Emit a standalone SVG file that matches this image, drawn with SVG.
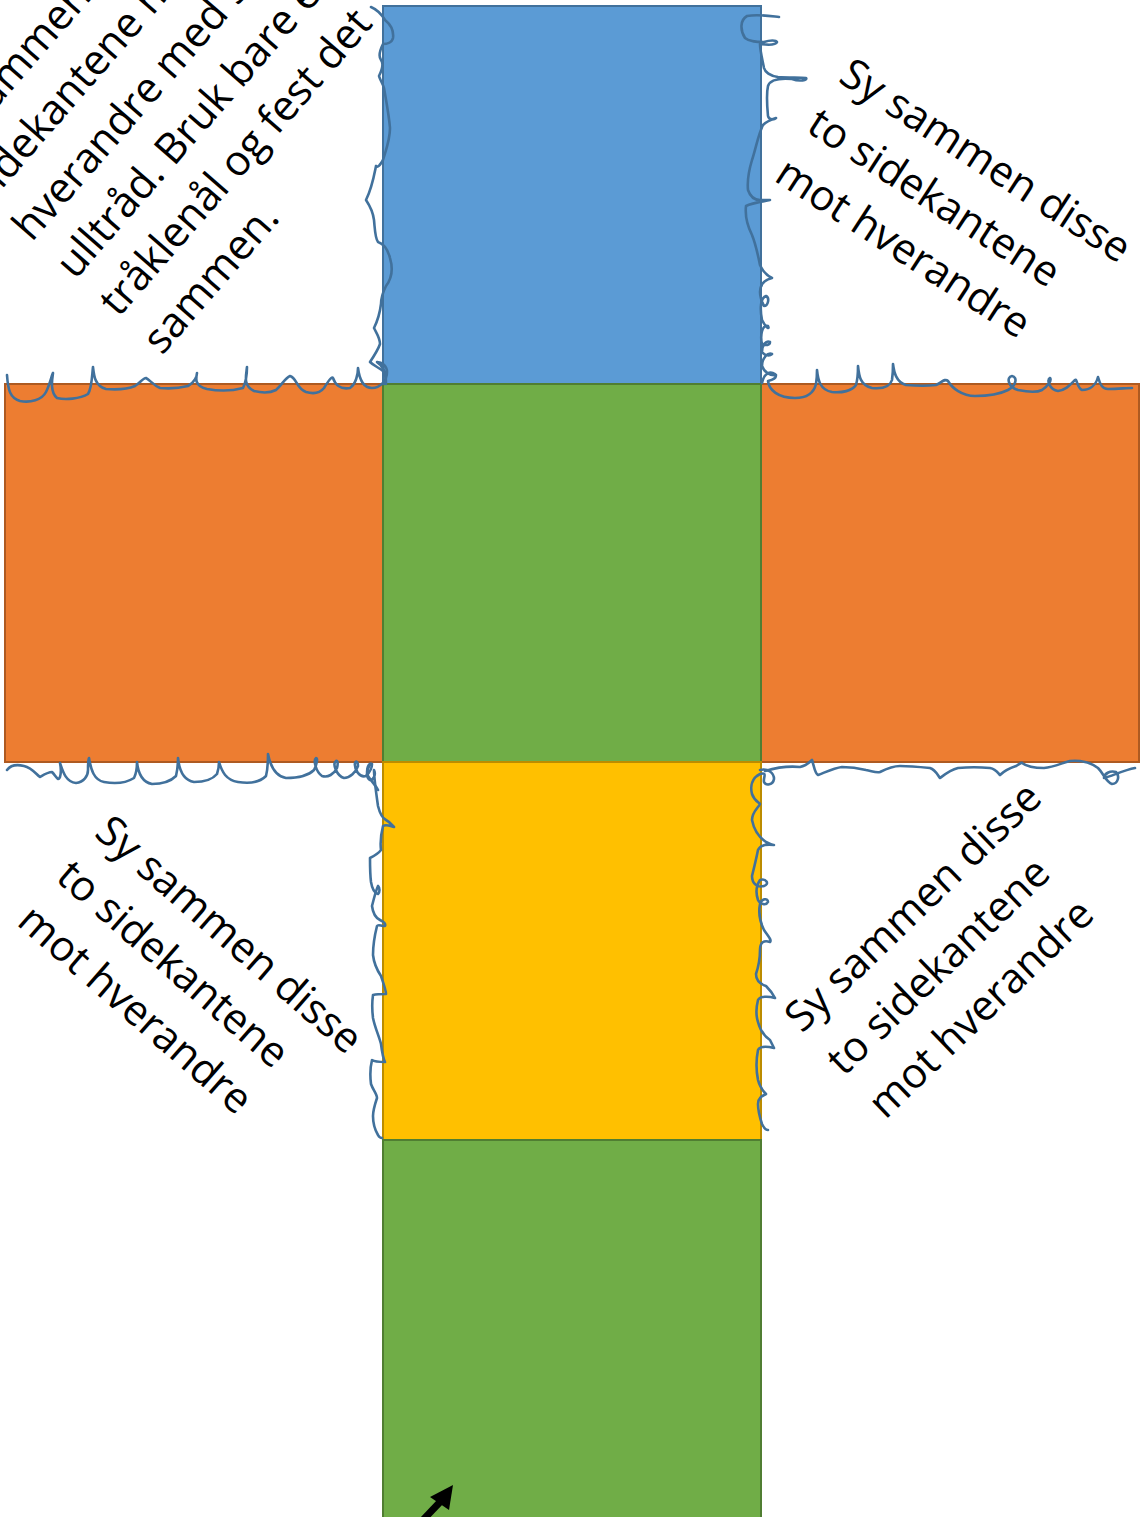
<svg xmlns="http://www.w3.org/2000/svg" width="1141" height="1517" viewBox="0 0 1141 1517">
<style>
.sq{stroke-width:2}
.blue{fill:#5B9BD5;stroke:#41719C}
.green{fill:#70AD47;stroke:#507E32}
.orange{fill:#ED7D31;stroke:#AE5A21}
.yellow{fill:#FFC000;stroke:#BC8C00}
.st{fill:none;stroke:#41719C;stroke-width:2.6;stroke-linecap:round;stroke-linejoin:round}
.lbl{font-family:"Open Sans","Noto Sans","DejaVu Sans",sans-serif;font-size:42px;fill:#000}
</style>
<rect width="1141" height="1517" fill="#fff"/>
<g id="face-top"><rect class="sq blue" x="383" y="6" width="378" height="378"/></g>
<g id="face-left"><rect class="sq orange" x="5" y="384" width="378" height="378"/></g>
<g id="face-right"><rect class="sq orange" x="761" y="384" width="378" height="378"/></g>
<g id="face-center"><rect class="sq green" x="383" y="384" width="378" height="378"/></g>
<g id="face-yellow"><rect class="sq yellow" x="383" y="762" width="378" height="378"/></g>
<g id="face-bottom"><rect class="sq green" x="383" y="1140" width="378" height="380"/></g>

<g id="stitches">
<path class="st" d="M7,375 C8,390 10,398 20,401 C30,403 42,400 46,392 C50,384 52,374 53,373 C52,380 50,392 57,398 C65,400 80,399 88,394 C92,388 92,375 93,367 C94,376 95,386 106,389 C118,390 128,389 135,386 C140,383 143,378 146,378 C150,380 153,385 160,388 C170,389 180,388 188,386 C195,382 197,376 197,373 C196,378 194,386 207,389 C218,391 232,391 243,388 C247,380 247,372 247,367 C246,376 243,386 254,391 C262,393 270,393 276,390 C282,385 285,378 290,376 C297,378 296,388 306,392 C313,394 320,393 324,388 C329,380 332,376 333,378 C335,384 340,390 350,388 C356,384 358,374 358,368 C359,376 362,388 372,388 C380,388 387,381 387,372 C387,366 382,362 377,362 C384,366 386,374 386,384"/>
<path class="st" d="M762,383 C764,373 770,371 775,374 C778,378 772,380 768,381 C769,390 778,398 795,398 C808,398 814,392 816,384 C817,378 817,374 817,370 C818,380 820,390 832,392 C842,393 852,391 856,385 C858,378 858,370 858,366 C859,376 860,385 872,388 C882,389 890,387 892,380 C893,373 893,368 893,364 C894,372 896,382 906,385 C918,386 928,386 936,385 C942,382 945,378 948,381 C952,388 962,396 975,396 C988,396 1000,394 1008,390 C1016,386 1018,377 1012,376 C1006,377 1008,387 1018,390 C1028,392 1036,393 1042,390 C1048,386 1052,380 1050,378 C1046,380 1050,390 1058,391 C1066,390 1070,385 1075,380 C1077,378 1077,388 1082,390 C1090,390 1096,385 1098,377 C1100,384 1102,389 1108,389 C1118,389 1126,388 1132,388"/>
<path class="st" d="M371,7 C378,10 382,15 385,20 C390,24 394,30 393,38 C392,43 386,44 383,44 C380,50 378,56 381,60 C384,64 382,70 379,76 C380,80 383,84 384,88 C386,100 389,115 390,128 C390,140 386,150 383,160 C380,165 378,168 376,166 C374,176 372,188 366,200 C370,206 373,212 374,220 C375,230 375,238 378,242 C384,244 388,250 390,258 C393,268 392,278 386,286 C383,292 381,298 381,304 C380,312 378,320 374,328 C377,334 380,338 380,344 C378,350 374,356 370,362 C374,366 380,368 384,372 C386,376 387,380 384,384"/>
<path class="st" d="M779,17 C770,16 758,14 747,16 C740,20 740,30 745,38 C750,42 757,42 764,42 C770,40 776,40 777,42 C776,45 768,45 760,44 C760,50 762,58 764,68 C765,72 770,76 778,77 C790,78 800,77 806,78 C808,80 800,82 792,79 C780,78 770,80 768,86 C766,95 767,105 768,116 C769,120 774,120 776,118 C770,120 766,122 763,125 C758,135 756,148 752,160 C749,170 747,180 748,190 C750,196 754,200 760,200 C765,200 770,200 770,200 C760,202 752,203 746,206 C745,215 747,225 752,235 C756,245 758,255 760,265 C763,272 768,276 772,278 C764,280 760,284 760,292 C760,298 762,302 764,306 C768,306 770,298 766,296 C760,298 760,310 762,320 C766,328 770,330 768,326 C762,324 760,336 762,344 C766,346 770,345 770,342 C766,340 762,345 762,352 C765,356 770,356 772,354 C768,352 762,358 762,366 C764,372 770,376 776,375"/>
<path class="st" d="M7,770 C10,766 16,764 24,766 C32,768 36,774 40,777 C45,774 48,772 52,772 C56,776 58,782 60,777 C62,770 60,764 60,763 C63,772 66,782 76,783 C84,782 88,776 88,770 C88,764 88,760 89,758 C91,770 94,780 104,782 C115,784 126,783 134,778 C137,772 137,766 137,762 C138,772 142,782 152,784 C160,784 170,782 176,776 C178,768 178,760 178,758 C179,768 182,780 194,782 C204,782 212,780 217,774 C219,768 219,764 219,762 C222,772 226,780 238,782 C250,784 260,782 266,776 C268,768 268,758 268,754 C270,764 274,776 286,778 C298,778 308,776 314,770 C317,764 318,758 316,758 C313,760 316,772 322,776 C328,778 334,774 337,768 C338,764 338,760 336,761 C332,764 337,776 344,778 C350,778 356,772 358,766 C358,762 356,760 355,763 C354,770 360,778 366,776 C370,772 372,768 372,764 C368,762 366,770 368,776 C372,782 376,786 378,790"/>
<path class="st" d="M370,765 C366,770 366,778 370,780 C374,780 376,774 374,770 C374,778 376,792 378,806 C380,814 382,818 386,820 C390,822 393,826 394,827 C390,826 386,824 383,826 C381,834 380,842 381,850 C378,854 374,856 370,858 C370,866 370,874 371,882 C372,888 374,893 378,894 C380,892 380,888 378,886 C376,890 374,898 372,906 C373,914 376,918 380,920 C384,922 386,924 385,926 C381,926 378,924 377,926 C375,934 373,944 373,955 C374,964 377,970 381,976 C383,982 386,990 386,994 C382,994 377,994 373,995 C372,1002 372,1010 373,1018 C375,1028 379,1036 381,1044 C382,1052 383,1058 385,1062 C380,1062 375,1062 372,1060 C370,1068 370,1076 371,1084 C373,1090 377,1094 377,1098 C375,1104 373,1110 373,1116 C373,1124 375,1130 378,1135 C379,1137 381,1138 382,1138"/>
<path class="st" d="M760,770 C768,768 774,773 774,779 C773,785 766,786 764,782 C763,777 768,772 760,774 C752,778 750,786 752,794 C754,800 758,802 760,804 C758,808 752,812 752,820 C754,830 760,838 766,842 C770,844 773,845 774,845 C766,844 760,845 758,850 C756,860 754,868 752,876 C752,884 758,888 764,886 C770,884 766,878 760,880 C756,886 756,894 758,900 C760,904 766,906 768,902 C768,898 762,898 760,904 C758,914 760,922 764,930 C768,936 772,940 770,942 C764,940 760,942 760,950 C760,960 758,968 756,974 C756,980 760,984 766,986 C770,990 773,994 775,998 C768,996 760,996 758,1000 C756,1008 756,1016 758,1022 C760,1030 764,1036 770,1040 C772,1044 773,1046 774,1048 C766,1046 760,1046 758,1050 C756,1060 756,1070 758,1080 C760,1088 764,1092 766,1094 C762,1096 758,1098 758,1104 C758,1112 760,1118 762,1124 C764,1128 766,1130 768,1130"/>
<path class="st" d="M765,771 C775,768 790,766 800,767 C806,766 810,762 812,760 C814,766 815,774 818,775 C826,772 834,768 842,767 C850,767 858,768 866,770 C872,771 876,773 880,772 C886,769 892,766 900,766 C910,766 920,767 930,768 C936,770 938,776 940,778 C944,775 950,770 958,768 C968,767 980,767 990,768 C996,769 998,773 1000,775 C1004,771 1010,768 1016,766 C1020,764 1022,762 1022,763 C1026,766 1034,768 1044,768 C1054,767 1062,763 1070,761 C1080,760 1090,762 1098,768 C1104,774 1106,782 1112,784 C1118,784 1120,776 1116,772 C1110,770 1104,774 1104,778 C1112,776 1124,770 1135,768"/>
</g>

<g id="connectors">
<line x1="421" y1="1522" x2="441" y2="1501" stroke="#000" stroke-width="7"/>
<polygon points="453,1485 449,1510 430,1497" fill="#000"/>
</g>

<g id="label-top-left" class="lbl" transform="translate(162,356) rotate(-49)">
<text x="0" y="-287.5">Sy sammen disse to</text>
<text x="0" y="-230">sidekantene mot</text>
<text x="0" y="-172.5">hverandre med synål og</text>
<text x="0" y="-115">ulltråd. Bruk bare en</text>
<text x="0" y="-57.5">tråklenål og fest det</text>
<text x="0" y="0">sammen.</text>
</g>
<g id="label-top-right" class="lbl" transform="translate(837,81) rotate(33)">
<text x="0" y="0">Sy sammen disse</text>
<text x="0" y="59">to sidekantene</text>
<text x="0" y="118">mot hverandre</text>
</g>
<g id="label-bottom-left" class="lbl" transform="translate(93,835) rotate(41)">
<text x="0" y="0">Sy sammen disse</text>
<text x="0" y="59">to sidekantene</text>
<text x="0" y="118">mot hverandre</text>
</g>
<g id="label-bottom-right" class="lbl" transform="translate(802,1034) rotate(-44)">
<text x="0" y="0">Sy sammen disse</text>
<text x="0" y="60">to sidekantene</text>
<text x="0" y="120">mot hverandre</text>
</g>
</svg>
